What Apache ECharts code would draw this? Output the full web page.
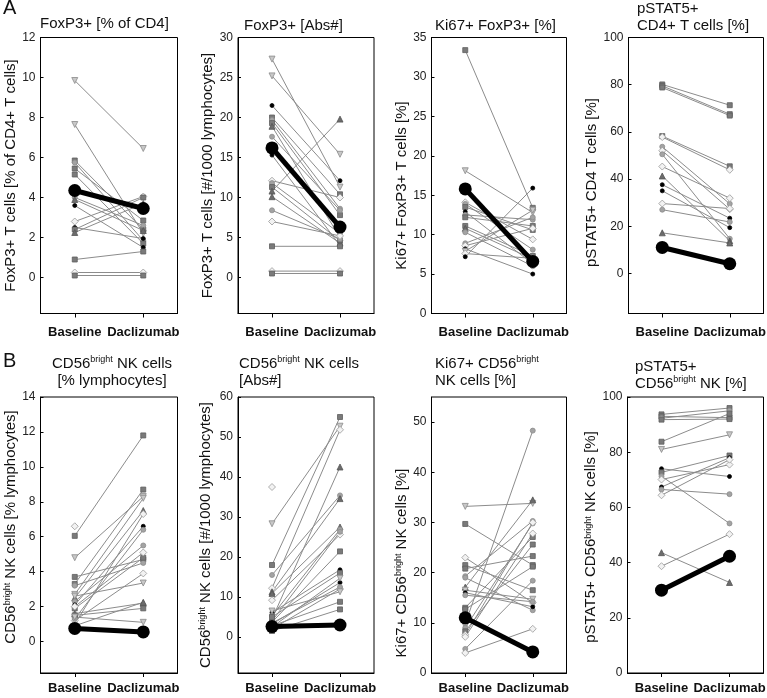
<!DOCTYPE html>
<html><head><meta charset="utf-8">
<script src="https://cdn.jsdelivr.net/npm/echarts@6/dist/echarts.min.js"></script>
<style>html,body{margin:0;padding:0;background:#fff}#c{width:767px;height:698px}</style>
</head><body><div id="c"></div>
<script>
// ---------- data ----------
const categories = ['Baseline', 'Daclizumab'];

// Panel A1: FoxP3+ [% of CD4]
const a1Base = [9.85, 7.65, 5.85, 5.75, 5.45, 5.15, 4.0, 3.9, 3.6, 2.8, 2.5, 2.4, 2.25, 0.9, 0.25, 0.1];
const a1Dac  = [6.45, 2.2, 2.4, 1.85, 2.85, 1.7, 2.6, 2.35, 1.5, 4.05, 1.95, 4.0, 3.7, 1.3, 0.25, 0.1];
const a1Marks = 'vvsosso^kdks^sds';
const a1Mean = [4.35, 3.45];
const a1Ticks = [0, 2, 4, 6, 8, 10, 12];

// Panel A2: FoxP3+ [Abs#]
const a2Base = [27.3, 25.2, 21.5, 20.0, 19.7, 19.3, 18.9, 17.6, 15.3, 12.1, 11.8, 11.3, 10.8, 10.1, 8.4, 7.0, 3.9, 0.8, 0.5];
const a2Dac  = [11.3, 15.4, 12.1, 10.4, 8.6, 7.8, 5.0, 8.4, 4.0, 10.0, 5.5, 4.6, 19.8, 4.3, 4.8, 5.2, 3.9, 0.8, 0.5];
const a2Marks = 'vvksos^okdos^^odsds';
const a2Mean = [16.2, 6.3];
const a2Ticks = [0, 5, 10, 15, 20, 25, 30];

// Panel A3: Ki67+ FoxP3+ [%]
const a3Base = [33.4, 18.1, 14.1, 13.9, 13.5, 12.9, 12.5, 12.2, 11.1, 10.8, 10.3, 8.9, 8.6, 8.2, 7.9, 7.6, 7.2];
const a3Dac  = [13.4, 12.8, 9.4, 8.1, 10.6, 6.3, 11.9, 11.1, 7.3, 6.9, 6.0, 12.2, 10.8, 5.0, 13.1, 7.0, 15.9];
const a3Marks = 'svdoskoss^oodkvdk';
const a3Mean = [15.8, 6.6];
const a3Ticks = [0, 5, 10, 15, 20, 25, 30, 35];

// Panel A4: pSTAT5+ CD4+ T cells [%]
const a4Base = [80.1, 79.5, 78.8, 58.2, 57.8, 53.7, 52.0, 50.5, 45.3, 41.3, 37.6, 35.0, 29.6, 27.0, 17.2];
const a4Dac  = [71.3, 67.5, 66.9, 45.4, 43.9, 29.5, 27.2, 14.7, 31.9, 13.8, 23.4, 19.4, 27.5, 21.8, 12.9];
const a4Marks = 'ssssdodod^kkdo^';
const a4Mean = [11.0, 4.1];
const a4Ticks = [0, 20, 40, 60, 80, 100];

// Panel B1: CD56bright NK cells [% lymphocytes]
const b1Base = [6.6, 6.05, 4.8, 3.7, 3.3, 3.2, 2.7, 2.5, 2.3, 2.1, 1.9, 1.6, 1.5, 1.2, 1.0, 0.9, 1.3, 2.0, 2.6, 1.4];
const b1Dac  = [null, 11.8, 8.3, 4.7, 8.7, 4.5, 8.2, 7.5, 5.5, 6.6, 4.8, 2.2, 1.9, 3.9, 7.3, 2.25, 6.4, 5.1, 3.35, 1.1];
const b1Marks = 'dsvssov^oks^sdd^odvv';
const b1Mean = [0.75, 0.55];
const b1Ticks = [0, 2, 4, 6, 8, 10, 12, 14];

// Panel B2: CD56bright NK cells [Abs#]
const b2Base = [37.5, 28.3, 18.0, 15.5, 12.2, 11.3, 10.9, 9.2, 6.1, 5.3, 4.5, 3.7, 3.2, 2.0, 1.5, 4.0, 5.0, 2.5, 3.5, 6.5, 2.8];
const b2Dac  = [null, 52.7, 55.0, 35.4, 51.8, 34.6, 27.5, 25.6, 16.8, 26.9, 42.5, 21.4, 13.6, 12.0, 6.9, 26.3, 16.0, 14.7, 12.5, 11.3, 8.8];
const b2Marks = 'dvsod^^dko^skdsosvovs';
const b2Mean = [2.6, 3.0];
const b2Ticks = [0, 10, 20, 30, 40, 50, 60];

// Panel B3: Ki67+ CD56bright NK cells [%]
const b3Base = [33.2, 29.7, 23.0, 21.5, 20.8, 19.3, 19.0, 17.1, 16.5, 16.0, 15.5, 13.0, 12.7, 9.8, 9.0, 8.3, 7.6, 7.2, 4.8, 4.0];
const b3Dac  = [33.8, 21.5, 14.0, 16.5, 23.3, 30.3, 12.5, 34.5, 14.7, 13.2, 14.2, 27.1, 21.2, 48.3, 29.8, 25.6, 30.0, 27.8, 18.4, 8.8];
const b3Marks = 'vsdssoo^vkossoosddod';
const b3Mean = [11.0, 4.2];
const b3Ticks = [0, 10, 20, 30, 40, 50];

// Panel B4: pSTAT5+ CD56bright NK [%]
const b4Base = [93.7, 93.0, 92.3, 91.8, 83.8, 81.0, 74.0, 72.7, 71.3, 70.1, 67.4, 66.5, 64.4, 43.6, 38.7];
const b4Dac  = [96.0, 92.5, 95.0, 92.0, 94.0, 86.3, 71.2, 78.8, 54.2, 75.5, 78.0, 64.8, 77.3, 32.8, 50.3];
const b4Marks = 'ssossvksodkod^d';
const b4Mean = [30.0, 42.3];
const b4Ticks = [0, 20, 40, 60, 80, 100];

// ---------- styling / layout ----------
const FONT = '"Liberation Sans", Arial, sans-serif';
const MARK = {
  s: {symbol: 'rect', size: 5, color: '#7a7a7a', border: '#5e5e5e', rot: 0},
  v: {symbol: 'triangle', size: 6, color: '#c8c8c8', border: '#8a8a8a', rot: 180},
  d: {symbol: 'diamond', size: 7, color: '#f2f2f2', border: '#9a9a9a', rot: 0},
  o: {symbol: 'circle', size: 5, color: '#a3a3a3', border: '#8c8c8c', rot: 0},
  k: {symbol: 'circle', size: 4, color: '#000', border: '#000', rot: 0},
  '^': {symbol: 'triangle', size: 6, color: '#6c6c6c', border: '#555', rot: 0}
};
const SUP = {sup: {fontSize: 9, verticalAlign: 'top', fontFamily: FONT}};

const panels = [
  {base: a1Base, dac: a1Dac, marks: a1Marks, mean: a1Mean, ticks: a1Ticks, min: -1.8, max: 12,
   yName: 'FoxP3+ T cells [% of CD4+ T cells]', gap: 13, shift: 0, xMargin: 12,
   grid: {left: 40.5, top: 37.5, width: 137}},
  {base: a2Base, dac: a2Dac, marks: a2Marks, mean: a2Mean, ticks: a2Ticks, min: -4.5, max: 30,
   yName: 'FoxP3+ T cells [#/1000 lymphocytes]', gap: 19, shift: 0, xMargin: 12,
   grid: {left: 238, top: 37.5, width: 136}},
  {base: a3Base, dac: a3Dac, marks: a3Marks, mean: a3Mean, ticks: a3Ticks, min: 0, max: 35,
   yName: 'Ki67+ FoxP3+ T cells [%]', gap: 20, shift: 20, xMargin: 12,
   grid: {left: 431.5, top: 37.5, width: 135}},
  {base: a4Base, dac: a4Dac, marks: a4Marks, mean: a4Mean, ticks: a4Ticks, min: -17, max: 100,
   yName: 'pSTAT5+ CD4 T cells [%]', gap: 19, shift: 14, xMargin: 12,
   grid: {left: 628.5, top: 37.5, width: 135}},
  {base: b1Base, dac: b1Dac, marks: b1Marks, mean: b1Mean, ticks: b1Ticks, min: -1.8, max: 14,
   yName: 'CD56{sup|bright} NK cells [% lymphocytes]', gap: 20, shift: -16, xMargin: 9,
   grid: {left: 40.5, top: 397, width: 137}},
  {base: b2Base, dac: b2Dac, marks: b2Marks, mean: b2Mean, ticks: b2Ticks, min: -9, max: 60,
   yName: 'CD56{sup|bright} NK cells [#/1000 lymphocytes]', gap: 25, shift: 0, xMargin: 9,
   grid: {left: 238, top: 397, width: 136}},
  {base: b3Base, dac: b3Dac, marks: b3Marks, mean: b3Mean, ticks: b3Ticks, min: 0, max: 55,
   yName: 'Ki67+ CD56{sup|bright} NK cells [%]', gap: 20, shift: 56, xMargin: 9,
   grid: {left: 431.5, top: 397, width: 135}},
  {base: b4Base, dac: b4Dac, marks: b4Marks, mean: b4Mean, ticks: b4Ticks, min: 0, max: 100,
   yName: 'pSTAT5+ CD56{sup|bright} NK cells [%]', gap: 16, shift: 4, xMargin: 9,
   grid: {left: 627.5, top: 397, width: 136}}
];

const titles = [
  {text: 'A', left: 3, top: 0, size: 20},
  {text: 'B', left: 3, top: 353, size: 20},
  {text: 'FoxP3+ [% of CD4]', left: 40, top: 15},
  {text: 'FoxP3+ [Abs#]', left: 244, top: 17},
  {text: 'Ki67+ FoxP3+ [%]', left: 435, top: 17},
  {text: 'pSTAT5+\nCD4+ T cells [%]', left: 637, top: 0},
  {text: 'CD56{sup|bright} NK cells\n[% lymphocytes]', left: 112, top: 355, align: 'center'},
  {text: 'CD56{sup|bright} NK cells\n[Abs#]', left: 239, top: 355},
  {text: 'Ki67+ CD56{sup|bright}\nNK cells [%]', left: 435, top: 355},
  {text: 'pSTAT5+\nCD56{sup|bright} NK [%]', left: 635, top: 358}
];

// ---------- build ----------
const grids = [], xAxes = [], yAxes = [], series = [];
panels.forEach((p, i) => {
  grids.push(Object.assign({height: 276, show: false, containLabel: false, outerBoundsMode: 'none'}, p.grid));
  xAxes.push({
    gridIndex: i, type: 'category', data: categories, boundaryGap: true,
    axisLine: {show: true, onZero: false, lineStyle: {color: '#000', width: 1}},
    axisTick: {show: true, alignWithLabel: true, length: 4, lineStyle: {color: '#000'}},
    axisLabel: {interval: 0, fontFamily: FONT, fontWeight: 'bold', fontSize: 13, color: '#111', margin: p.xMargin, hideOverlap: false},
    splitLine: {show: false}
  });
  yAxes.push({
    gridIndex: i, type: 'value', min: p.min, max: p.max,
    axisLine: {show: true, onZero: false, lineStyle: {color: '#000', width: 1}},
    axisTick: {show: true, inside: true, length: 3, customValues: p.ticks, lineStyle: {color: '#000'}},
    axisLabel: {customValues: p.ticks, fontFamily: FONT, fontSize: 12, color: '#222', margin: 5},
    splitLine: {show: false},
    name: p.yName, nameLocation: 'middle', nameGap: p.gap,
    nameTextStyle: {fontFamily: FONT, fontSize: 15, color: '#111',
      padding: p.shift >= 0 ? [0, p.shift, 0, 0] : [0, 0, 0, -p.shift], rich: SUP}
  });
  p.base.forEach((b, j) => {
    const m = MARK[p.marks[j]];
    const pt = v => v == null ? '-' : {
      value: v, symbol: m.symbol, symbolSize: m.size, symbolRotate: m.rot,
      itemStyle: {color: m.color, borderColor: m.border, borderWidth: 0.8}
    };
    series.push({
      type: 'line', xAxisIndex: i, yAxisIndex: i, data: [pt(b), pt(p.dac[j])],
      lineStyle: {color: '#8c8c8c', width: 1}, showSymbol: true, showAllSymbol: true,
      silent: true, animation: false, z: 2
    });
  });
  series.push({
    type: 'line', xAxisIndex: i, yAxisIndex: i, data: p.mean,
    symbol: 'circle', symbolSize: 13, lineStyle: {color: '#000', width: 5},
    itemStyle: {color: '#000'}, silent: true, animation: false, z: 5
  });
});

const titleOpts = titles.map(t => ({
  text: t.text, left: t.left, top: t.top, padding: 0, textAlign: t.align || 'left',
  textStyle: {fontFamily: FONT, fontSize: t.size || 15, fontWeight: 'normal', color: '#111',
    lineHeight: 17, rich: SUP}
}));

const chart = echarts.init(document.getElementById('c'), null, {renderer: 'canvas'});
chart.setOption({
  animation: false, backgroundColor: '#fff',
  title: titleOpts, grid: grids, xAxis: xAxes, yAxis: yAxes, series: series
});

// plot-box frames taken from the library's own grid layout
const frames = panels.map((p, i) => {
  let r;
  try { r = chart.getModel().getComponent('grid', i).coordinateSystem.getRect(); }
  catch (e) { r = {x: p.grid.left, y: p.grid.top, width: p.grid.width, height: 276}; }
  return {type: 'rect', silent: true, z: 100,
    shape: {x: r.x, y: r.y, width: r.width, height: r.height},
    style: {fill: null, stroke: '#000', lineWidth: 1}};
});
chart.setOption({graphic: frames});
</script></body></html>
